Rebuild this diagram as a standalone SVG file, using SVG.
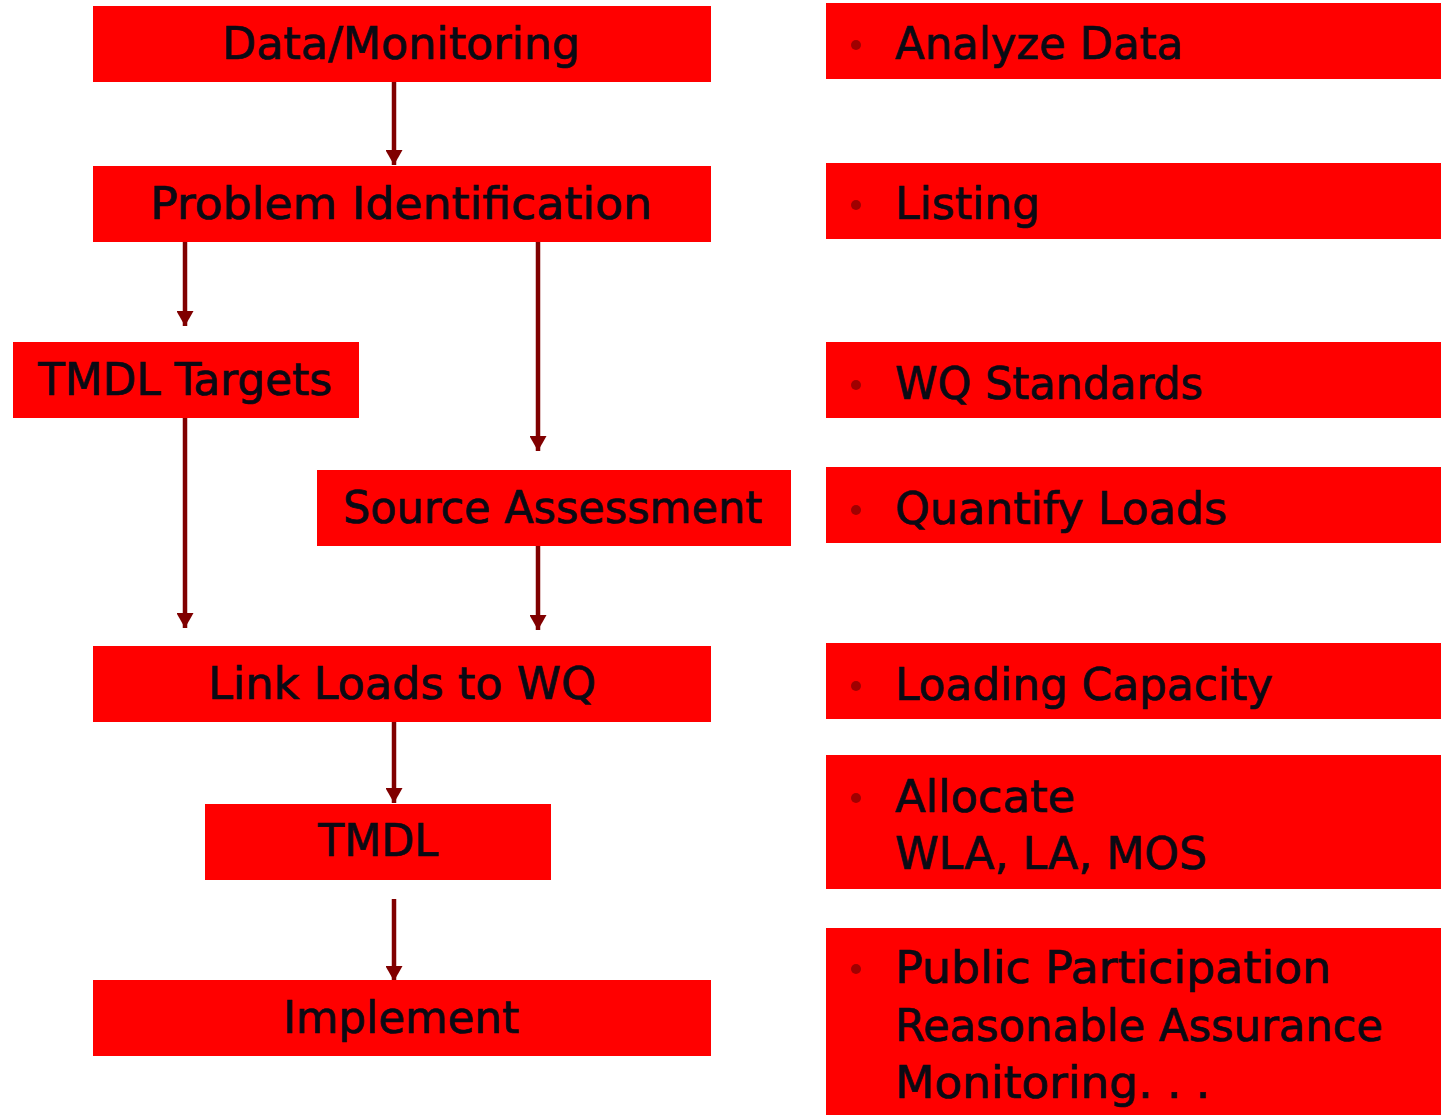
<svg xmlns="http://www.w3.org/2000/svg" width="1441" height="1115" viewBox="0 0 1441 1115">
<style>
.box{fill:#ff0000}
.t{font-family:"DejaVu Sans Condensed","DejaVu Sans",sans-serif;font-size:45px;fill:#0a0a14;stroke:#0a0a14;stroke-width:0.7}
.c{stroke:#800000;stroke-width:4.5;fill:none}
.b{fill:#a00000}
</style>
<defs>
<marker id="ah" markerUnits="userSpaceOnUse" markerWidth="17" markerHeight="17" refX="15" refY="8.5" orient="auto">
<path d="M0,0 L15,8.5 L0,17 Z" fill="#800000"/>
</marker>
</defs>
<rect width="1441" height="1115" fill="#ffffff"/>
<g id="connectors">
<line class="c" x1="394" y1="82" x2="394" y2="165" marker-end="url(#ah)"/>
<line class="c" x1="185" y1="242" x2="185" y2="326" marker-end="url(#ah)"/>
<line class="c" x1="538" y1="242" x2="538" y2="451" marker-end="url(#ah)"/>
<line class="c" x1="185" y1="418" x2="185" y2="628" marker-end="url(#ah)"/>
<line class="c" x1="538" y1="546" x2="538" y2="630" marker-end="url(#ah)"/>
<line class="c" x1="394" y1="722" x2="394" y2="803" marker-end="url(#ah)"/>
<line class="c" x1="394" y1="899" x2="394" y2="981" marker-end="url(#ah)"/>
</g>
<g id="n-data"><rect class="box" x="93" y="6" width="618" height="76"/><text class="t" x="222" y="59" textLength="358" lengthAdjust="spacingAndGlyphs">Data/Monitoring</text></g>
<g id="n-problem"><rect class="box" x="93" y="166" width="618" height="76"/><text class="t" x="150" y="219" textLength="502" lengthAdjust="spacingAndGlyphs">Problem Identification</text></g>
<g id="n-targets"><rect class="box" x="13" y="342" width="346" height="76"/><text class="t" x="38" y="395" textLength="294" lengthAdjust="spacingAndGlyphs">TMDL Targets</text></g>
<g id="n-source"><rect class="box" x="317" y="470" width="474" height="76"/><text class="t" x="343" y="523" textLength="419" lengthAdjust="spacingAndGlyphs">Source Assessment</text></g>
<g id="n-link"><rect class="box" x="93" y="646" width="618" height="76"/><text class="t" x="208" y="699" textLength="388" lengthAdjust="spacingAndGlyphs">Link Loads to WQ</text></g>
<g id="n-tmdl"><rect class="box" x="205" y="804" width="346" height="76"/><text class="t" x="318" y="856" textLength="120" lengthAdjust="spacingAndGlyphs">TMDL</text></g>
<g id="n-implement"><rect class="box" x="93" y="980" width="618" height="76"/><text class="t" x="283" y="1033" textLength="236" lengthAdjust="spacingAndGlyphs">Implement</text></g>
<g id="r-analyze"><rect class="box" x="826" y="3" width="615" height="76"/><circle class="b" cx="856" cy="45" r="5"/><text class="t" x="895" y="59" textLength="288" lengthAdjust="spacingAndGlyphs">Analyze Data</text></g>
<g id="r-listing"><rect class="box" x="826" y="163" width="615" height="76"/><circle class="b" cx="856" cy="205" r="5"/><text class="t" x="895" y="219" textLength="145" lengthAdjust="spacingAndGlyphs">Listing</text></g>
<g id="r-wq"><rect class="box" x="826" y="342" width="615" height="76"/><circle class="b" cx="856" cy="385" r="5"/><text class="t" x="895" y="399" textLength="308" lengthAdjust="spacingAndGlyphs">WQ Standards</text></g>
<g id="r-quantify"><rect class="box" x="826" y="467" width="615" height="76"/><circle class="b" cx="856" cy="510" r="5"/><text class="t" x="895" y="524" textLength="332" lengthAdjust="spacingAndGlyphs">Quantify Loads</text></g>
<g id="r-loading"><rect class="box" x="826" y="643" width="615" height="76"/><circle class="b" cx="856" cy="686" r="5"/><text class="t" x="895" y="700" textLength="378" lengthAdjust="spacingAndGlyphs">Loading Capacity</text></g>
<g id="r-allocate"><rect class="box" x="826" y="755" width="615" height="134"/><circle class="b" cx="856" cy="798" r="5"/><text class="t" x="895" y="812" textLength="180" lengthAdjust="spacingAndGlyphs">Allocate</text><text class="t" x="895" y="869" textLength="312" lengthAdjust="spacingAndGlyphs">WLA, LA, MOS</text></g>
<g id="r-public"><rect class="box" x="826" y="928" width="615" height="187"/><circle class="b" cx="856" cy="969" r="5"/><text class="t" x="895" y="983" textLength="436" lengthAdjust="spacingAndGlyphs">Public Participation</text><text class="t" x="895" y="1041" textLength="488" lengthAdjust="spacingAndGlyphs">Reasonable Assurance</text><text class="t" x="895" y="1098" textLength="315" lengthAdjust="spacingAndGlyphs">Monitoring. . .</text></g>
</svg>
